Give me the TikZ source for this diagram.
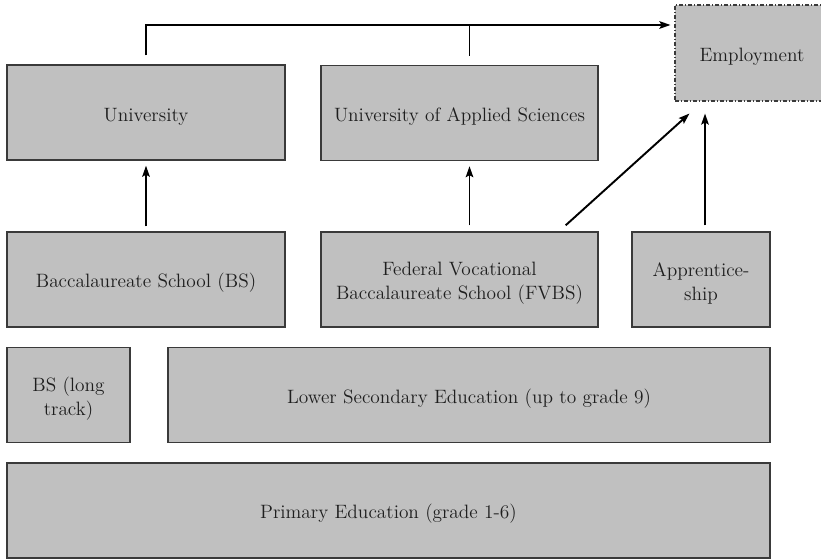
\documentclass[tikz,border=0pt]{standalone}
\usetikzlibrary{arrows.meta}
\definecolor{boxfill}{HTML}{C0C0C0}
\definecolor{boxline}{HTML}{3A3A3A}
\definecolor{textgray}{HTML}{1E1E1E}

\begin{document}
\begin{tikzpicture}[x=0.02cm, y=-0.02cm,
                stage/.style={
                  draw=boxline, line width=0.8pt, fill=boxfill, text=textgray,
                  minimum width=#1, minimum height=1.9cm, inner sep=0pt,
                  align=center, text height=0.42cm,
                  font=\fontsize{11}{13.7}\selectfont
                },
                stage/.default=5.56cm,
                twoline/.style={text height=0.9cm},
                flow/.style={line width=1.1pt, -{Stealth[length=0.22cm, width=0.15cm, inset=0.04cm]}},
                link/.style={line width=1.1pt}
              ]
              \useasboundingbox (0,0) rectangle (821,560);
              % upper level
              \node [stage] at (146,112.5) (uni) {University};
              \node [stage=5.54cm] at (459.5,113) (uas) {University of Applied Sciences};
              \node [stage=3.08cm, minimum height=1.92cm, line width=0.6pt,
                     dash pattern=on 0.08cm off 0.04cm on 0.02cm off 0.04cm] at (752,53) (empl) {Employment};
              % upper secondary
              \node [stage] at (146,279.5) (bs) {Baccalaureate School (BS)};
              \node [stage=5.54cm, twoline] at (459.5,279.5) (fvbs) {Federal Vocational\\Baccalaureate School (FVBS)};
              \node [stage=2.76cm, twoline] at (701,279.5) (appr) {Apprentice-\\ship};
              % lower levels
              \node [stage=2.46cm, twoline] at (68.5,395) (bslong) {BS (long\\track)};
              \node [stage=12.04cm] at (469,395) (lowsec) {Lower Secondary Education (up to grade 9)};
              \node [stage=15.26cm] at (388.5,510.5) (prim) {Primary Education (grade 1-6)};
              % connectors
              \coordinate (bend) at (146,25);
              \draw [flow, shorten >=0.08cm] ([yshift=0.18cm]uni.north) |- (empl.west |- bend);
              \draw [link] ([xshift=0.2cm, yshift=0.18cm]uas.north) -- ([xshift=0.2cm]uas.north |- bend);
              \draw [flow, shorten >=0.1cm] ([yshift=0.1cm]bs.north) -- (uni.south);
              \draw [flow, shorten >=0.1cm] ([xshift=0.2cm, yshift=0.12cm]fvbs.north) -- ([xshift=0.2cm]uas.south);
              \draw [flow] ([xshift=-0.66cm, yshift=0.12cm]fvbs.north east) -- ([xshift=0.3cm, yshift=-0.24cm]empl.south west);
              \draw [flow] ([xshift=0.08cm, yshift=0.12cm]appr.north) -- ([xshift=0.08cm, yshift=-0.24cm]appr.north |- empl.south);
\end{tikzpicture}
\end{document}
